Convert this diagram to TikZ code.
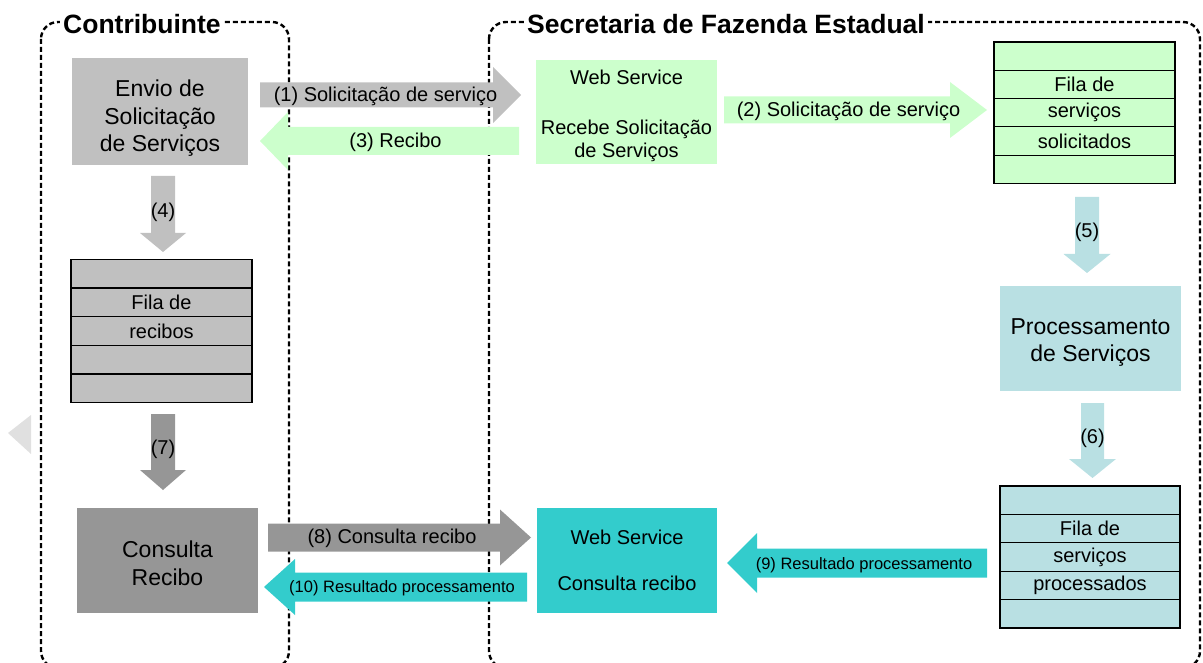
\documentclass[tikz,border=0pt]{standalone}
\usepackage{fontspec}
\setmainfont{Liberation Sans}
\definecolor{gLight}{HTML}{C0C0C0}
\definecolor{gDark}{HTML}{969696}
\definecolor{gPale}{HTML}{E0E0E0}
\definecolor{grn}{HTML}{CCFFCC}
\definecolor{blu}{HTML}{B9E0E3}
\definecolor{teal2}{HTML}{33CCCC}
\newcommand\rshape[6]{(#1,#4-#5) -- (#2,#4-#5) -- (#2,#4-#6) -- (#3,#4) -- (#2,#4+#6) -- (#2,#4+#5) -- (#1,#4+#5) -- cycle}
\newcommand\dshape[6]{(#1-#5,#2) -- (#1+#5,#2) -- (#1+#5,#3) -- (#1+#6,#3) -- (#1,#4) -- (#1-#6,#3) -- (#1-#5,#3) -- (#1-#5,#2) -- cycle}
\tikzset{
  box/.style={inner sep=0pt},
  btxt/.style={inner sep=0pt, align=center, font=\fontsize{23}{27.5}\selectfont},
  wtxt/.style={inner sep=0pt, align=center, font=\fontsize{20}{23}\selectfont},
  row/.style={draw=black, line width=1.2pt, inner sep=0pt, font=\fontsize{20}{23}\selectfont},
  lbl/.style={inner sep=0pt, font=\fontsize{20}{23}\selectfont},
  slbl/.style={inner sep=0pt, font=\fontsize{16.5}{19}\selectfont},
  region/.style={draw=black, line width=2.4pt, dash pattern=on 5pt off 3pt, rounded corners=17pt},
  ttl/.style={fill=white, inner xsep=3pt, inner ysep=0pt, font=\fontsize{26.5}{30}\selectfont\bfseries},
}
\begin{document}
\begin{tikzpicture}[x=1pt,y=-1pt]
\useasboundingbox (0,0) rectangle (1203,663);
\begin{scope}
\clip (0,0) rectangle (1203,663);
% regions
\draw[region] (41,22) rectangle (289,668);
\draw[region] (489,22) rectangle (1200,668);
\end{scope}
\node[ttl, anchor=west] (tContrib) at (60,24) {Contribuinte};
\node[ttl, anchor=west] (tSefaz) at (524,24) {Secretaria de Fazenda Estadual};

% pale triangle
\fill[gPale] (8,433) -- (31,415) -- (31,454) -- cycle;

% main boxes
\node[box, fill=gLight, minimum width=176, minimum height=107] (envio) at (160,111.5) {};
\node[btxt] (envioT) at ([yshift=-7pt]envio.center) {Envio de\\Solicitação\\de Serviços};
\node[box, fill=grn, minimum width=181, minimum height=104] (ws1) at (626.5,112) {};
\node[wtxt] (ws1T) at ([yshift=-4pt]ws1.center) {Web Service\\[27pt]Recebe Solicitação\\de Serviços};
\node[box, fill=blu, minimum width=181, minimum height=105] (proc) at (1090.5,338.5) {};
\node[btxt] (procT) at ([yshift=-4pt]proc.center) {Processamento\\de Serviços};
\node[box, fill=teal2, minimum width=180, minimum height=105] (ws2) at (627,560) {};
\node[wtxt] (ws2T) at (ws2.center) {Web Service\\[23pt]Consulta recibo};
\node[box, fill=gDark, minimum width=181, minimum height=105] (cons) at (167.5,560.5) {};
\node[btxt] (consT) at ([yshift=-3pt]cons.center) {Consulta\\Recibo};

% queues
\foreach \i/\t in {0/,1/Fila de,2/serviços,3/solicitados,4/}{
  \node[row, fill=grn, minimum width=181, minimum height=28.3] (fs\i) at (1084.5,{42+14.15+28.3*\i}) {\t};
}
\foreach \i/\t in {0/,1/Fila de,2/recibos,3/,4/}{
  \node[row, fill=gLight, minimum width=181, minimum height=28.6] (fr\i) at (161.5,{259.5+14.3+28.6*\i}) {\t};
}
\foreach \i/\t in {0/,1/Fila de,2/serviços,3/processados,4/}{
  \node[row, fill=blu, minimum width=180, minimum height=28.4] (fp\i) at (1090,{486+14.2+28.4*\i}) {\t};
}

% block arrows
\fill[gLight] \rshape{260}{493}{521}{95}{12.5}{28};
\node[lbl] (l1) at (385.5,96) {(1) Solicitação de serviço};
\fill[grn] \rshape{519}{288}{260}{141}{14}{29};
\node[lbl] (l3) at (395.5,142) {(3) Recibo};
\fill[grn] \rshape{724}{950}{987}{110}{13.5}{28};
\node[lbl] (l2) at (848.5,111) {(2) Solicitação de serviço};
\fill[gDark] \rshape{268}{500}{531}{537.5}{14}{28};
\node[lbl] (l8) at (392,538) {(8) Consulta recibo};
\fill[teal2] \rshape{527}{295}{264}{587}{14.5}{28};
\node[slbl] (l10) at (402,588) {(10) Resultado processamento};
\fill[teal2] \rshape{987}{757}{727}{563}{14.5}{30};
\node[slbl] (l9) at (864,565) {(9) Resultado processamento};

\fill[gLight] \dshape{163}{176}{233}{252}{12}{23};
\node[lbl] (l4) at (163,212) {(4)};
\fill[gDark] \dshape{163}{414}{470}{490}{12}{23};
\node[lbl] (l7) at (163,449) {(7)};
\fill[blu] \dshape{1087}{197}{254}{273}{12}{23.5};
\node[lbl] (l5) at (1087,232) {(5)};
\fill[blu] \dshape{1092.5}{403}{459}{478}{11.5}{23.5};
\node[lbl] (l6) at (1092.5,438) {(6)};
\end{tikzpicture}
\end{document}
